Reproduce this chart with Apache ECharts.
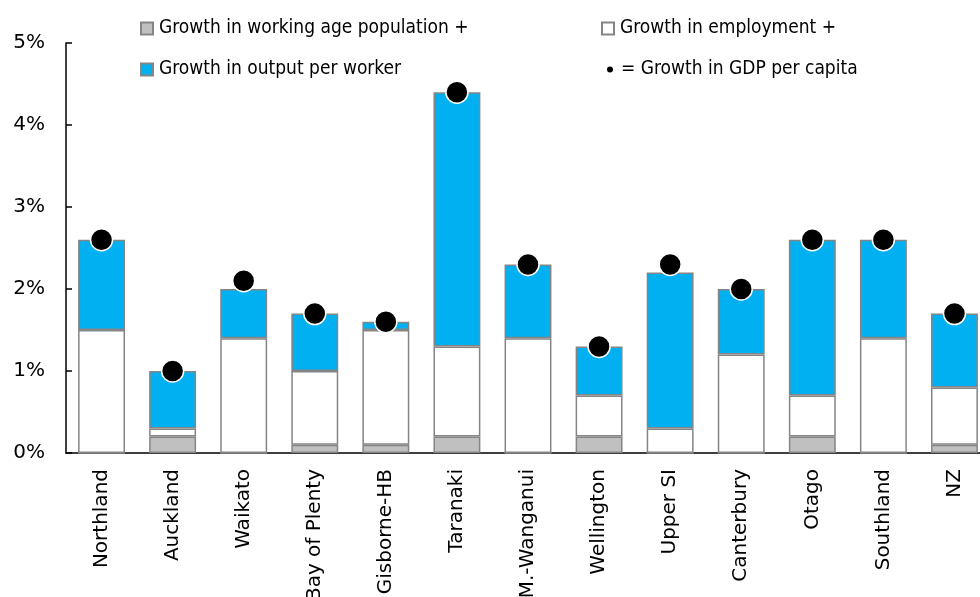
<!DOCTYPE html>
<html>
<head>
<meta charset="utf-8">
<script src="https://cdn.jsdelivr.net/npm/echarts@6/dist/echarts.min.js"></script>
<style>
  html, body { margin: 0; padding: 0; background: #fff; overflow: hidden; }
  #chart { width: 1000px; height: 597px; }
</style>
</head>
<body>
<div id="chart"></div>
<script>
const regions = ['Northland', 'Auckland', 'Waikato', 'Bay of Plenty', 'Gisborne-HB', 'Taranaki',
  'M.-Wanganui', 'Wellington', 'Upper SI', 'Canterbury', 'Otago', 'Southland', 'NZ'];
const workingAge = [0, 0.2, 0, 0.1, 0.1, 0.2, 0, 0.2, 0, 0, 0.2, 0, 0.1];
const employment = [1.5, 0.1, 1.4, 0.9, 1.4, 1.1, 1.4, 0.5, 0.3, 1.2, 0.5, 1.4, 0.7];
const outputPerWorker = [1.1, 0.7, 0.6, 0.7, 0.1, 3.1, 0.9, 0.6, 1.9, 0.8, 1.9, 1.2, 0.9];
const gdpPerCapita = [2.6, 1.0, 2.1, 1.7, 1.6, 4.4, 2.3, 1.3, 2.3, 2.0, 2.6, 2.6, 1.7];
const yTicks = [0, 1, 2, 3, 4, 5];

const FONT = 'DejaVu Sans';
const LEGEND_FONT = "'DejaVu Sans Condensed', 'DejaVu Sans'";
// chart div is a bit wider than the window so the last category runs off the right edge
const chart = echarts.init(document.getElementById('chart'));

const barBorder = { borderColor: '#858585', borderWidth: 1.5 };
const legendText = { fontFamily: LEGEND_FONT, fontSize: 19, color: '#000' };

function legendAt(name, left, top, icon, size, gap) {
  return {
    data: [name],
    left: left,
    top: top,
    padding: 0,
    icon: icon,
    itemWidth: size,
    itemHeight: size,
    itemGap: 0,
    selectedMode: false,
    textStyle: Object.assign({ padding: [0, 0, 0, gap - 5] }, legendText)
  };
}

const option = {
  animation: false,
  legend: [
    legendAt('Growth in working age population +', 140, 19, 'rect', 12, 6),
    legendAt('Growth in employment +', 601, 19, 'rect', 12, 6),
    legendAt('Growth in output per worker', 140, 60, 'rect', 12, 6),
    legendAt('= Growth in GDP per capita', 605, 60, 'circle', 8, 7)
  ],
  grid: { left: 66, top: 43, width: 924, bottom: 144, outerBoundsMode: 'none' },
  xAxis: {
    type: 'category',
    data: regions,
    axisLine: { lineStyle: { color: '#000', width: 1.5 } },
    axisTick: { inside: true, length: 6, lineStyle: { color: '#000', width: 1.5 } },
    axisLabel: { rotate: 90, margin: 16, fontFamily: FONT, fontSize: 20, color: '#000' }
  },
  yAxis: {
    type: 'value',
    min: 0,
    max: 5,
    interval: 1,
    axisLine: { show: true, lineStyle: { color: '#000', width: 1.5 } },
    axisTick: { show: true, inside: true, length: 6, lineStyle: { color: '#000', width: 1.5 } },
    splitLine: { show: false },
    axisLabel: {
      margin: 21,
      fontFamily: FONT,
      fontSize: 20,
      color: '#000',
      formatter: v => yTicks.includes(v) ? v + '%' : ''
    }
  },
  series: [
    {
      name: 'Growth in working age population +',
      type: 'bar',
      stack: 'g',
      barWidth: '66%',
      data: workingAge,
      itemStyle: Object.assign({ color: '#c0c0c0' }, barBorder),
      emphasis: { disabled: true }
    },
    {
      name: 'Growth in employment +',
      type: 'bar',
      stack: 'g',
      data: employment,
      itemStyle: Object.assign({ color: '#ffffff' }, barBorder),
      emphasis: { disabled: true }
    },
    {
      name: 'Growth in output per worker',
      type: 'bar',
      stack: 'g',
      data: outputPerWorker,
      itemStyle: Object.assign({ color: '#00b0f0' }, barBorder),
      emphasis: { disabled: true }
    },
    {
      name: '= Growth in GDP per capita',
      type: 'scatter',
      data: gdpPerCapita,
      symbol: 'circle',
      symbolSize: 22,
      z: 5,
      itemStyle: { color: '#000', opacity: 1, borderColor: '#fff', borderWidth: 1.5 },
      emphasis: { disabled: true }
    }
  ]
};

chart.setOption(option);
</script>
</body>
</html>
